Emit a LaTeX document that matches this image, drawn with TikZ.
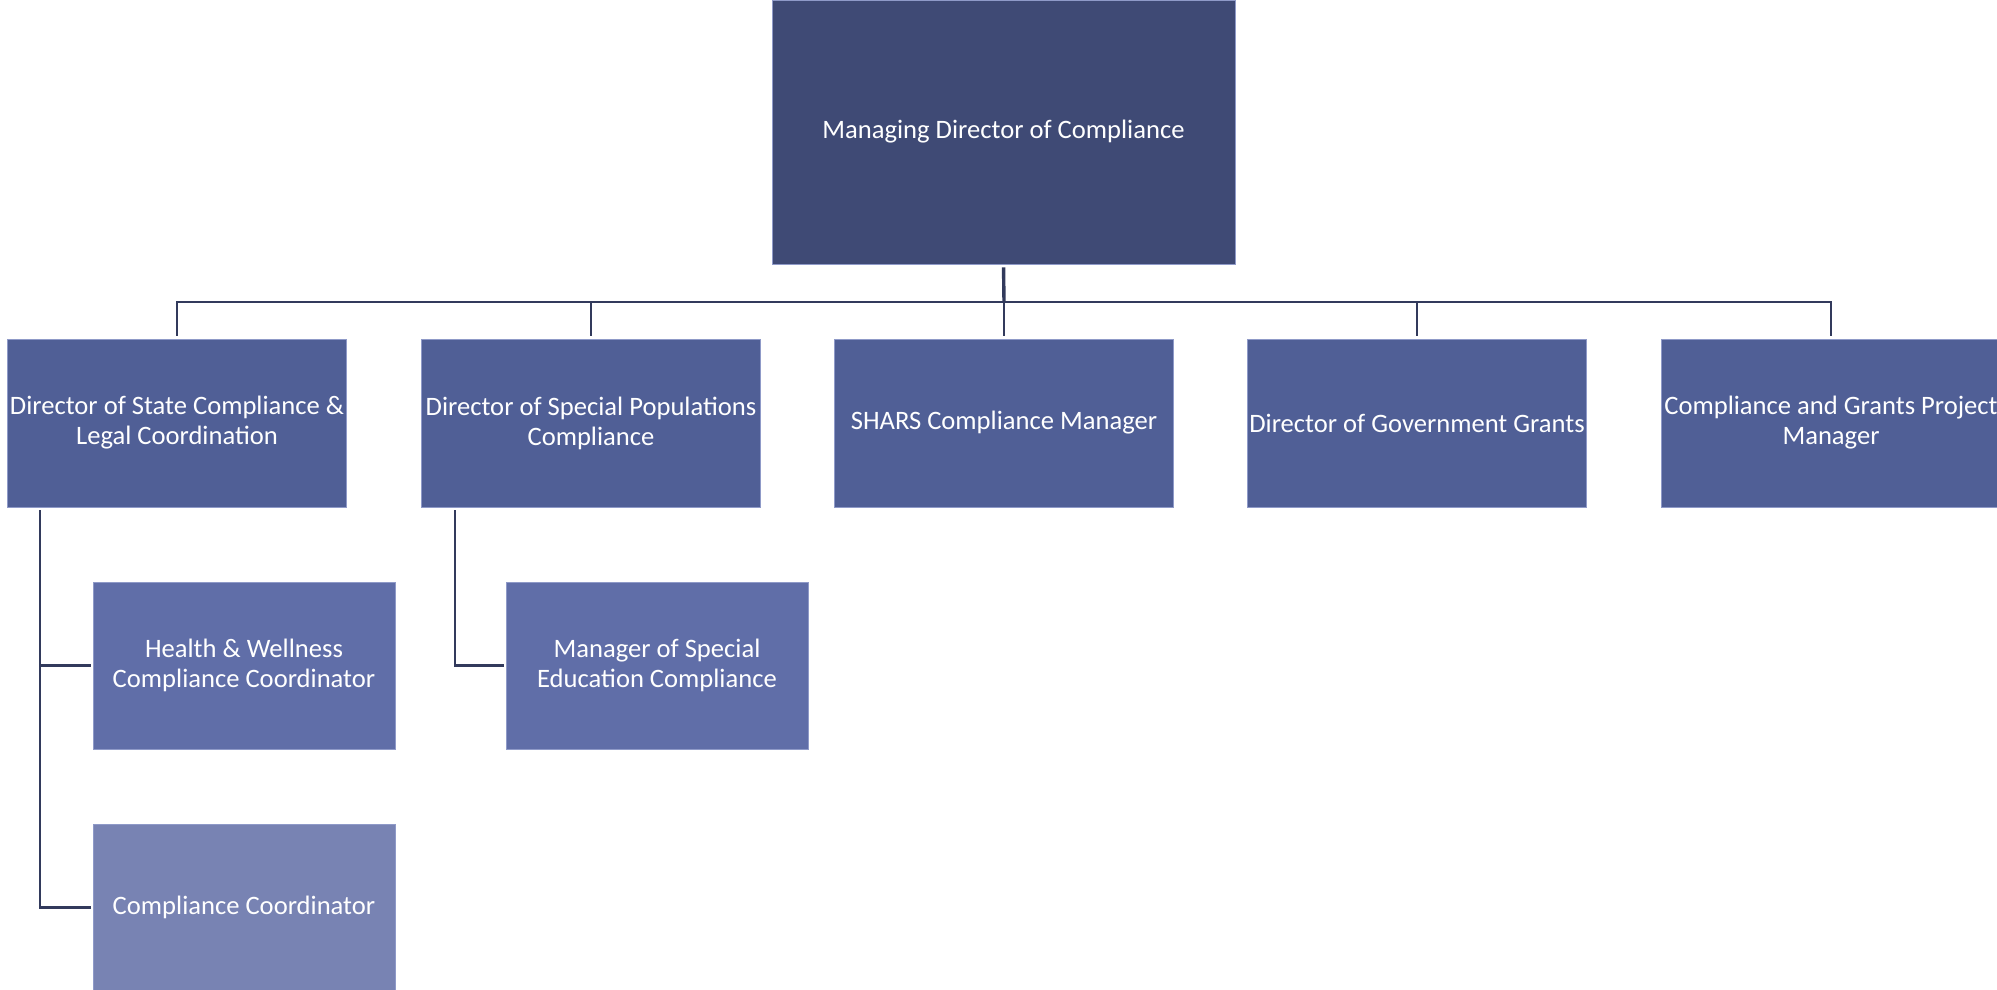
\documentclass[tikz,border=0pt]{standalone}
\usepackage{fontspec}
\setmainfont{Carlito}
\definecolor{topc}{HTML}{3F4A75}
\definecolor{midc}{HTML}{505F96}
\definecolor{lowc}{HTML}{606EA8}
\definecolor{lastc}{HTML}{7883B3}
\definecolor{edgec}{HTML}{8F9AC8}
\definecolor{linec}{HTML}{323A5C}
\tikzset{
  box/.style={draw=edgec, line width=0.8pt, inner sep=0pt, align=center, text=white,
    font=\fontsize{26.6}{30}\selectfont},
  topbox/.style={box, fill=topc, minimum width=463pt, minimum height=264pt},
  midbox/.style={box, fill=midc, minimum width=339pt, minimum height=168pt},
  lowbox/.style={box, fill=lowc, minimum width=302pt, minimum height=167pt},
  lastbox/.style={box, fill=lastc, minimum width=302pt, minimum height=167pt},
  conn/.style={draw=linec, line width=2.6pt},
}
\begin{document}
\begin{tikzpicture}[x=1pt,y=-1pt]
\useasboundingbox (0,0) rectangle (1997,990);
\node[topbox] (top) at (1003.5,132) {Managing Director of Compliance};
\node[midbox] (a) at (177,423) {Director of State Compliance \&\\Legal Coordination};
\node[midbox] (b) at (591,423) {Director of Special Populations\\Compliance};
\node[midbox] (c) at (1004,423) {SHARS Compliance Manager};
\node[midbox] (d) at (1417,423) {Director of Government Grants};
\node[midbox] (e) at (1831,423) {Compliance and Grants Project\\Manager};
\node[lowbox] (hw) at (244,665.5) {Health \& Wellness\\Compliance Coordinator};
\node[lowbox] (ms) at (657,665.5) {Manager of Special\\Education Compliance};
\node[lastbox] (cc) at (244,907.5) {Compliance Coordinator};
\coordinate (bus) at (1004,302);
\draw[conn, line width=3.4pt, shorten <=3pt] (top.south) -- (bus);
\foreach \n in {a,b,c,d,e}{
  \draw[conn, shorten >=3pt] (bus) -| (\n.north);
}
\draw[conn, shorten <=3pt, shorten >=2pt] ([xshift=33pt]a.south west) |- (hw.west);
\draw[conn, shorten <=3pt, shorten >=2pt] ([xshift=33pt]a.south west) |- (cc.west);
\draw[conn, shorten <=3pt, shorten >=2pt] ([xshift=34pt]b.south west) |- (ms.west);
\end{tikzpicture}
\end{document}
